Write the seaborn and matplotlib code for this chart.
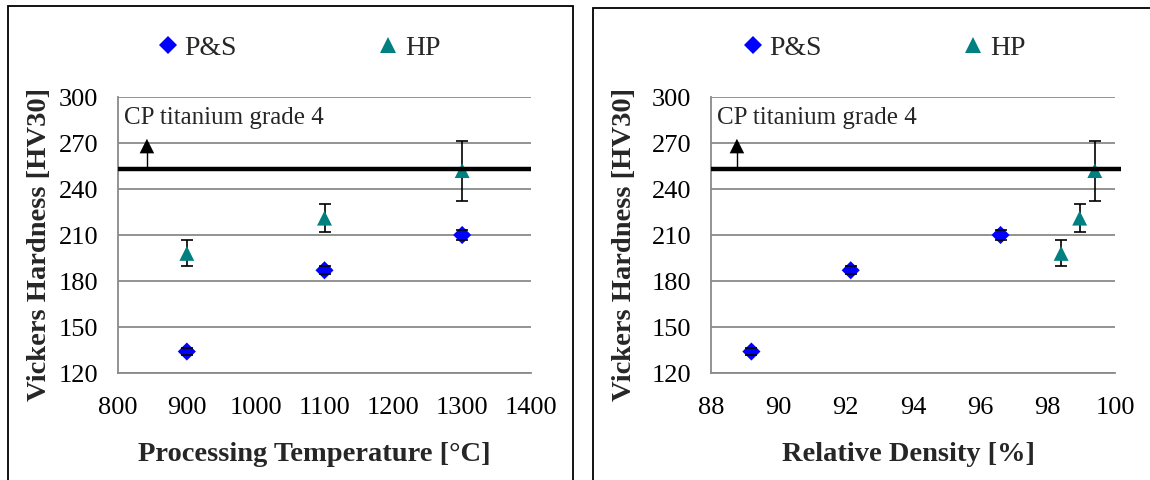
import matplotlib
matplotlib.use("Agg")
import matplotlib.pyplot as plt
import pandas as pd
import seaborn as sns
from matplotlib.lines import Line2D
from matplotlib.patches import Rectangle

# ---- data ----
temperature = [900, 1100, 1300]          # processing temperature [°C]
ps_density = [89.2, 92.15, 96.6]         # relative density [%] of P&S samples
hp_density = [98.4, 98.95, 99.4]         # relative density [%] of HP samples

ps_hardness = [134, 187, 210]
ps_err = [2.5, 2.5, 3]
hp_hardness = [198, 221, 252]
hp_err = [8.5, 9, 19.5]

cp_ti_hardness = 253
cp_arrow_top = 268
cp_label = "CP titanium grade 4"

series_names = ["P&S", "HP"]
series_colors = {"P&S": "#0000FF", "HP": "#008080"}
series_markers = {"P&S": "D", "HP": "^"}

hv_ticks = [120, 150, 180, 210, 240, 270, 300]
temp_ticks = [800, 900, 1000, 1100, 1200, 1300, 1400]
density_ticks = [88, 90, 92, 94, 96, 98, 100]

W, H = 1150, 480
GRID = "#8a8a8a"
SERIF = ["Liberation Serif", "DejaVu Serif"]


def make_frame(x_ps, x_hp):
    return pd.concat([
        pd.DataFrame({"x": x_ps, "hv": ps_hardness, "err": ps_err, "process": "P&S"}),
        pd.DataFrame({"x": x_hp, "hv": hp_hardness, "err": hp_err, "process": "HP"}),
    ], ignore_index=True)


def draw_panel(fig, left_px, right_px, df, xlim, xticks, xlabel, arrow_x, line_end,
               legend_x, xlabel_x, ylabel_px):
    top_px, bottom_px = 97, 373
    ax = fig.add_axes([left_px / W, (H - bottom_px) / H,
                       (right_px - left_px) / W, (bottom_px - top_px) / H])

    for name in series_names:
        sub = df[df["process"] == name]
        _, caps, _ = ax.errorbar(sub["x"], sub["hv"], yerr=sub["err"], fmt="none",
                                 ecolor="black", elinewidth=1.2, capsize=4.2,
                                 capthick=1.2, zorder=3)
        # caps stay visible on top of the markers, the bar itself goes behind
        for cap in caps:
            cap.set_zorder(5)
        sns.scatterplot(data=sub, x="x", y="hv", ax=ax, color=series_colors[name],
                        marker=series_markers[name],
                        s=85 if name == "P&S" else 115,
                        edgecolor="none", zorder=4, legend=False)

    # CP titanium grade 4 reference line with arrow
    ax.plot([xlim[0], line_end], [cp_ti_hardness, cp_ti_hardness], color="black",
            lw=3.2, solid_capstyle="butt", clip_on=False, zorder=6)
    ax.plot([arrow_x, arrow_x], [cp_ti_hardness, cp_arrow_top], color="black", lw=1.0, zorder=6)
    ax.scatter([arrow_x], [cp_arrow_top], marker="^", s=110, color="black",
               edgecolor="none", zorder=6)
    ax.text(0.015, 0.924, cp_label, transform=ax.transAxes, fontsize=18,
            family=SERIF, va="center", ha="left")

    ax.set_xlim(*xlim)
    ax.set_ylim(120, 300)
    ax.set_xticks(xticks)
    ax.set_yticks(hv_ticks)
    ax.yaxis.grid(True, color=GRID, lw=1.3)
    ax.set_axisbelow(True)
    for side in ["top", "right"]:
        ax.spines[side].set_visible(False)
    for side in ["left", "bottom"]:
        ax.spines[side].set_color(GRID)
        ax.spines[side].set_linewidth(1.3)
    ax.tick_params(axis="both", colors=GRID, labelcolor="black", width=1.3,
                   length=6, labelsize=19, direction="out")
    ax.tick_params(axis="y", pad=8)
    ax.tick_params(axis="x", pad=11)
    for lab in ax.get_xticklabels() + ax.get_yticklabels():
        lab.set_family(SERIF)

    ax.set_xlabel(xlabel, fontsize=20.5, fontweight="bold", family=SERIF)
    ax.set_ylabel("Vickers Hardness [HV30]", fontsize=20.5, fontweight="bold", family=SERIF)
    ax.xaxis.set_label_coords(xlabel_x, -0.25)
    ax.yaxis.set_label_coords((ylabel_px - left_px) / (right_px - left_px), 0.464)

    handles = [Line2D([], [], ls="none", marker=series_markers[n], color=series_colors[n],
                      markersize=9 if n == "P&S" else 11, markeredgewidth=0)
               for n in series_names]
    ax.legend(handles, series_names, loc="center", bbox_to_anchor=(legend_x, 1.178),
              ncol=2, frameon=False, columnspacing=5.15, handlelength=0.6,
              handletextpad=0.3, prop={"family": SERIF, "size": 20})
    return ax


def main():
    sns.set_style("white")
    plt.rcParams["font.family"] = SERIF

    fig = plt.figure(figsize=(W / 100, H / 100), dpi=100)

    # panel frames
    fig.patches.append(Rectangle((8 / W, -0.05), (573 - 8) / W, (H - 6) / H + 0.05,
                                 transform=fig.transFigure, fill=False, ec="black", lw=1.3))
    fig.patches.append(Rectangle((593 / W, -0.05), 0.5, (H - 8) / H + 0.05,
                                 transform=fig.transFigure, fill=False, ec="black", lw=1.3))

    draw_panel(fig, 118, 531, make_frame(temperature, temperature), (800, 1400), temp_ticks,
               "Processing Temperature [°C]", 842, 1400, 0.44, 0.475, 52)
    draw_panel(fig, 711, 1115, make_frame(ps_density, hp_density), (88, 100), density_ticks,
               "Relative Density [%]", 88.77, 100.18, 0.43, 0.49, 637)

    fig.savefig("out.png", dpi=100)
    plt.close(fig)


if __name__ == "__main__":
    main()
